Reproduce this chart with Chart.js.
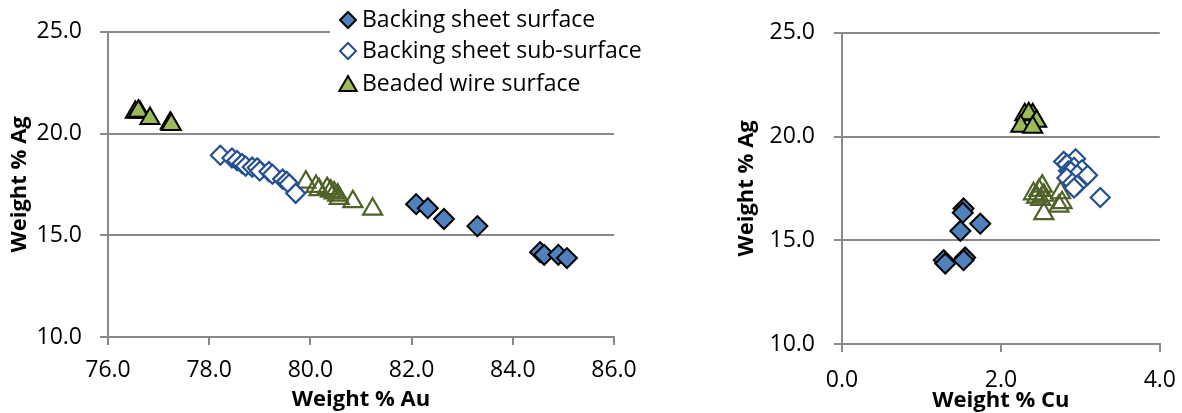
<!DOCTYPE html>
<html><head><meta charset="utf-8">
<script src="https://cdn.jsdelivr.net/npm/chart.js@4.4.1/dist/chart.umd.min.js"></script>
<style>
html,body{margin:0;padding:0;background:#fff;}
#wrap{position:relative;width:1182px;height:413px;overflow:hidden;background:#fff;}
#c1{position:absolute;left:0;top:0;}
#c2{position:absolute;left:680px;top:0;}
</style></head><body>
<div id="wrap"><canvas id="c1" width="660" height="413"></canvas><canvas id="c2" width="511" height="413"></canvas></div>
<script>
// ---- data ----
const seriesNames = ['Backing sheet surface','Backing sheet sub-surface','Beaded wire surface','Beaded wire sub-surface'];

const bsAu = [82.09, 82.32, 82.64, 83.30, 84.54, 84.62, 84.90, 85.07];
const bsAg = [16.53, 16.33, 15.80, 15.45, 14.17, 14.04, 14.04, 13.88];
const bsCu = [1.53, 1.52, 1.74, 1.49, 1.55, 1.53, 1.28, 1.30];

const bssAu = [78.22, 78.45, 78.55, 78.65, 78.72, 78.85, 78.95, 79.00, 79.18, 79.25, 79.45, 79.53, 79.58, 79.71];
const bssAg = [18.93, 18.80, 18.67, 18.52, 18.40, 18.35, 18.32, 18.16, 18.13, 18.00, 17.76, 17.65, 17.52, 17.06];
const bssCu = [2.94, 2.79, 2.83, 2.92, 3.02, 2.85, 2.88, 2.96, 3.09, 2.83, 2.90, 2.96, 2.92, 3.25];

const bwAu = [76.54, 76.63, 76.60, 76.83, 77.23, 77.25];
const bwAg = [21.05, 21.05, 21.10, 20.74, 20.50, 20.45];
const bwCu = [2.30, 2.40, 2.35, 2.45, 2.25, 2.40];

const bwsAu = [79.91, 80.11, 80.17, 80.33, 80.40, 80.47, 80.54, 80.57, 80.84, 81.23];
const bwsAg = [17.61, 17.40, 17.24, 17.29, 17.17, 17.08, 16.97, 16.81, 16.65, 16.28];
const bwsCu = [2.52, 2.48, 2.41, 2.75, 2.54, 2.45, 2.50, 2.77, 2.73, 2.54];

const auTicks = [76, 78, 80, 82, 84, 86];
const cuTicks = [0, 2, 4];
const agTicks = [10, 15, 20, 25];

// ---- styles ----
const FONT = 'Open Sans';
const GRID = '#898989';
const styles = [
  {pointStyle:'rectRot', radius:10, bg:'#4F81BD', border:'#000000', bw:2},
  {pointStyle:'rectRot', radius:9.5, bg:'#ffffff', border:'#24508F', bw:2.2},
  {pointStyle:'triangle', radius:11, bg:'#9BBB59', border:'#000000', bw:2},
  {pointStyle:'triangle', radius:11, bg:'rgba(255,255,255,0)', border:'#4F6228', bw:2.2}
];

function pts(xs, ys){ return xs.map((x,i)=>({x:x, y:ys[i]})); }

function datasets(xArrs){
  const yArrs = [bsAg, bssAg, bwAg, bwsAg];
  return xArrs.map((xa,i)=>({
    label: seriesNames[i],
    data: pts(xa, yArrs[i]),
    pointStyle: styles[i].pointStyle,
    pointRadius: styles[i].radius,
    pointBackgroundColor: styles[i].bg,
    pointBorderColor: styles[i].border,
    pointBorderWidth: styles[i].bw,
    showLine: false
  }));
}

function drawMarker(ctx, shape, x, y, r, fill, stroke, lw){
  ctx.beginPath();
  if (shape === 'rectRot'){
    ctx.moveTo(x - r, y); ctx.lineTo(x, y - r); ctx.lineTo(x + r, y); ctx.lineTo(x, y + r);
  } else {
    const s = Math.sin(Math.PI/3) * r;
    ctx.moveTo(x, y - r); ctx.lineTo(x + s, y + r/2); ctx.lineTo(x - s, y + r/2);
  }
  ctx.closePath();
  ctx.fillStyle = fill; ctx.fill();
  ctx.lineWidth = lw; ctx.strokeStyle = stroke; ctx.stroke();
}

const legendPlugin = {
  id: 'floatLegend',
  afterDraw(chart){
    const ctx = chart.ctx;
    ctx.save();
    ctx.fillStyle = '#ffffff';
    ctx.fillRect(330, 0, 330, 100);
    const rows = [20, 51, 84];
    const sizes = [8, 8, 10];
    [0,1,2].forEach((i, k)=>{
      const st = styles[i];
      const ry = rows[k];
      drawMarker(ctx, st.pointStyle, 348, st.pointStyle === 'triangle' ? ry + 2 : ry, sizes[k], st.bg, st.border, 2);
      ctx.fillStyle = '#000';
      ctx.font = '23px "' + FONT + '"';
      ctx.textAlign = 'left';
      ctx.textBaseline = 'middle';
      ctx.fillText(chart.data.datasets[i].label, 362, ry);
    });
    ctx.restore();
  }
};

function makeChart(canvas, xArrs, cfg){
  return new Chart(canvas, {
    type: 'scatter',
    data: { datasets: datasets(xArrs) },
    plugins: cfg.plugins || [],
    options: {
      responsive: false,
      animation: false,
      events: [],
      layout: { padding: cfg.padding },
      plugins: { legend: { display: false }, tooltip: { enabled: false } },
      scales: {
        x: {
          type: 'linear', min: cfg.xTicks[0], max: cfg.xTicks[cfg.xTicks.length-1],
          afterBuildTicks: (s)=>{ s.ticks = cfg.xTicks.map(v=>({value:v})); },
          afterFit: (s)=>{ s.height = cfg.xHeight; },
          grid: { drawOnChartArea: false, drawTicks: true, tickLength: 8, color: GRID, lineWidth: 2 },
          border: { display: true, color: GRID, width: 2 },
          ticks: { color: '#000', padding: cfg.xTickPad, maxRotation: 0, autoSkip: false,
                   font: { family: FONT, size: 23 }, callback: (v)=>Number(v).toFixed(1) },
          title: { display: true, text: cfg.xTitle, color: '#000',
                   font: { family: FONT, size: 22, weight: 'bold' }, padding: { top: 0, bottom: cfg.xTitlePad } }
        },
        y: {
          type: 'linear', min: 10, max: 25,
          afterBuildTicks: (s)=>{ s.ticks = agTicks.map(v=>({value:v})); },
          afterFit: (s)=>{ s.width = cfg.yWidth; },
          grid: { drawOnChartArea: true, drawTicks: true, tickLength: 8, color: GRID, lineWidth: 2 },
          border: { display: true, color: GRID, width: 2 },
          ticks: { color: '#000', padding: cfg.yTickPad,
                   font: { family: FONT, size: 23 }, callback: (v)=>Number(v).toFixed(1) },
          title: { display: true, text: 'Weight % Ag', color: '#000',
                   font: { family: FONT, size: 22, weight: 'bold' }, padding: { top: cfg.yTitlePad, bottom: 0 } }
        }
      }
    }
  });
}

makeChart(document.getElementById('c1'), [bsAu, bssAu, bwAu, bwsAu], {
  xTicks: auTicks, xTitle: 'Weight % Au',
  padding: { left: 0, right: 46, top: 24, bottom: 0 },
  yWidth: 108, xHeight: 76, xTickPad: 12, yTickPad: 18, yTitlePad: 7, xTitlePad: 0,
  plugins: [legendPlugin]
});

makeChart(document.getElementById('c2'), [bsCu, bssCu, bwCu, bwsCu], {
  xTicks: cuTicks, xTitle: 'Weight % Cu',
  padding: { left: 0, right: 0, top: 24, bottom: 0 },
  yWidth: 162, xHeight: 69, xTickPad: 15, yTickPad: 19, yTitlePad: 54, xTitlePad: -1
});
</script>
</body></html>
